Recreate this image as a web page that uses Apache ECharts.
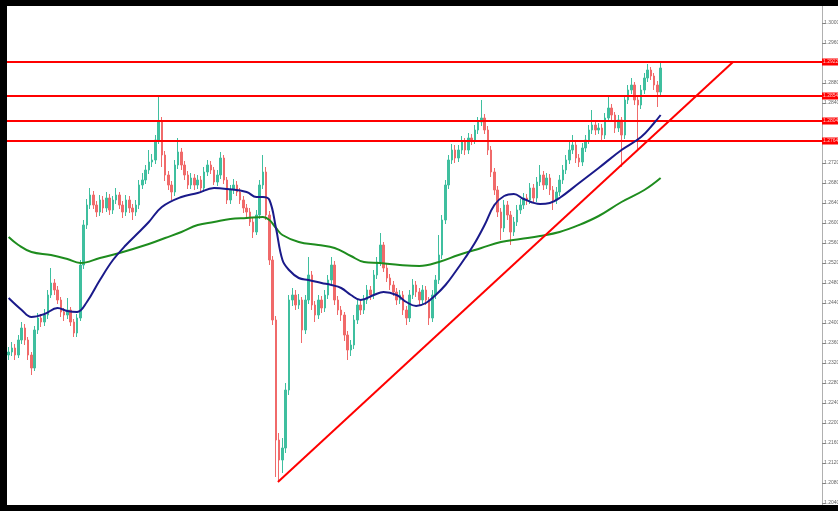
<!DOCTYPE html>
<html><head><meta charset="utf-8">
<script src="https://cdn.jsdelivr.net/npm/echarts/dist/echarts.min.js"></script>
<style>html,body{margin:0;padding:0;background:#fff}#c{width:838px;height:511px}</style>
</head><body><div id="c"></div>
<script>
const slotCount = 250;
const categories = Array.from({length: slotCount}, (_, i) => String(i));

const opens = [1.2336,
1.2342,1.2350,1.2336,1.2366,1.2390,1.2366,1.2336,1.2310,1.2386,1.2410,
1.2402,1.2416,1.2456,1.2480,1.2466,1.2446,1.2422,1.2416,1.2426,1.2402,
1.2380,1.2410,1.2516,1.2596,1.2636,1.2656,1.2636,1.2622,1.2646,1.2630,
1.2650,1.2626,1.2646,1.2656,1.2636,1.2622,1.2646,1.2630,1.2622,1.2636,
1.2676,1.2686,1.2706,1.2722,1.2726,1.2766,1.2802,1.2736,1.2696,1.2676,
1.2662,1.2716,1.2742,1.2716,1.2696,1.2676,1.2690,1.2676,1.2686,1.2670,
1.2702,1.2716,1.2706,1.2682,1.2696,1.2730,1.2686,1.2646,1.2666,1.2676,
1.2662,1.2646,1.2630,1.2622,1.2602,1.2582,1.2616,1.2676,1.2702,1.2616,
1.2526,1.2406,1.2166,1.2126,1.2150,1.2266,1.2446,1.2456,1.2436,1.2446,
1.2386,1.2446,1.2496,1.2436,1.2416,1.2446,1.2430,1.2456,1.2486,1.2516,
1.2446,1.2426,1.2416,1.2376,1.2346,1.2356,1.2406,1.2436,1.2426,1.2446,
1.2466,1.2456,1.2496,1.2522,1.2556,1.2510,1.2490,1.2476,1.2462,1.2446,
1.2456,1.2426,1.2410,1.2456,1.2476,1.2462,1.2446,1.2466,1.2446,1.2410,
1.2456,1.2486,1.2536,1.2606,1.2676,1.2726,1.2746,1.2730,1.2746,1.2762,
1.2746,1.2770,1.2766,1.2786,1.2802,1.2810,1.2786,1.2746,1.2702,1.2666,
1.2622,1.2590,1.2636,1.2616,1.2582,1.2602,1.2626,1.2636,1.2650,1.2646,
1.2670,1.2650,1.2682,1.2696,1.2676,1.2690,1.2666,1.2646,1.2662,1.2686,
1.2706,1.2726,1.2746,1.2756,1.2730,1.2722,1.2750,1.2766,1.2786,1.2796,
1.2786,1.2790,1.2776,1.2810,1.2830,1.2816,1.2790,1.2806,1.2776,1.2846,
1.2866,1.2876,1.2846,1.2836,1.2866,1.2890,1.2906,1.2894,1.2876,1.2862];

const closes = [
1.2342,1.2350,1.2336,1.2366,1.2390,1.2366,1.2336,1.2310,1.2386,1.2410,
1.2402,1.2416,1.2456,1.2480,1.2466,1.2446,1.2422,1.2416,1.2426,1.2402,
1.2380,1.2410,1.2516,1.2596,1.2636,1.2656,1.2636,1.2622,1.2646,1.2630,
1.2650,1.2626,1.2646,1.2656,1.2636,1.2622,1.2646,1.2630,1.2622,1.2636,
1.2676,1.2686,1.2706,1.2722,1.2726,1.2766,1.2802,1.2736,1.2696,1.2676,
1.2662,1.2716,1.2742,1.2716,1.2696,1.2676,1.2690,1.2676,1.2686,1.2670,
1.2702,1.2716,1.2706,1.2682,1.2696,1.2730,1.2686,1.2646,1.2666,1.2676,
1.2662,1.2646,1.2630,1.2622,1.2602,1.2582,1.2616,1.2676,1.2702,1.2616,
1.2526,1.2406,1.2166,1.2126,1.2150,1.2266,1.2446,1.2456,1.2436,1.2446,
1.2386,1.2446,1.2496,1.2436,1.2416,1.2446,1.2430,1.2456,1.2486,1.2516,
1.2446,1.2426,1.2416,1.2376,1.2346,1.2356,1.2406,1.2436,1.2426,1.2446,
1.2466,1.2456,1.2496,1.2522,1.2556,1.2510,1.2490,1.2476,1.2462,1.2446,
1.2456,1.2426,1.2410,1.2456,1.2476,1.2462,1.2446,1.2466,1.2446,1.2410,
1.2456,1.2486,1.2536,1.2606,1.2676,1.2726,1.2746,1.2730,1.2746,1.2762,
1.2746,1.2770,1.2766,1.2786,1.2802,1.2810,1.2786,1.2746,1.2702,1.2666,
1.2622,1.2590,1.2636,1.2616,1.2582,1.2602,1.2626,1.2636,1.2650,1.2646,
1.2670,1.2650,1.2682,1.2696,1.2676,1.2690,1.2666,1.2646,1.2662,1.2686,
1.2706,1.2726,1.2746,1.2756,1.2730,1.2722,1.2750,1.2766,1.2786,1.2796,
1.2786,1.2790,1.2776,1.2810,1.2830,1.2816,1.2790,1.2806,1.2776,1.2846,
1.2866,1.2876,1.2846,1.2836,1.2866,1.2890,1.2906,1.2894,1.2876,1.2862,
1.2910];

const highs = [
1.2352,1.2362,1.2358,1.2376,1.2402,1.2398,1.2372,1.2342,1.2394,1.2420,
1.2418,1.2428,1.2466,1.2510,1.2488,1.2474,1.2452,1.2430,1.2450,1.2432,
1.2408,1.2418,1.2526,1.2606,1.2648,1.2670,1.2664,1.2644,1.2656,1.2654,
1.2662,1.2658,1.2654,1.2670,1.2662,1.2644,1.2656,1.2654,1.2638,1.2646,
1.2686,1.2700,1.2716,1.2746,1.2738,1.2776,1.2852,1.2812,1.2744,1.2704,
1.2684,1.2726,1.2770,1.2750,1.2724,1.2704,1.2700,1.2698,1.2696,1.2694,
1.2712,1.2726,1.2724,1.2712,1.2706,1.2742,1.2736,1.2692,1.2676,1.2688,
1.2684,1.2670,1.2654,1.2638,1.2630,1.2610,1.2626,1.2686,1.2736,1.2712,
1.2624,1.2534,1.2414,1.2180,1.2170,1.2280,1.2456,1.2470,1.2466,1.2458,
1.2452,1.2456,1.2532,1.2504,1.2444,1.2456,1.2454,1.2466,1.2496,1.2532,
1.2524,1.2454,1.2434,1.2422,1.2384,1.2366,1.2416,1.2446,1.2444,1.2456,
1.2476,1.2474,1.2506,1.2532,1.2580,1.2562,1.2518,1.2498,1.2484,1.2470,
1.2466,1.2464,1.2434,1.2466,1.2488,1.2484,1.2470,1.2476,1.2474,1.2452,
1.2466,1.2496,1.2576,1.2616,1.2686,1.2736,1.2758,1.2756,1.2756,1.2774,
1.2770,1.2780,1.2778,1.2796,1.2812,1.2846,1.2818,1.2794,1.2754,1.2710,
1.2674,1.2630,1.2646,1.2644,1.2624,1.2612,1.2636,1.2648,1.2660,1.2658,
1.2680,1.2678,1.2692,1.2716,1.2704,1.2700,1.2698,1.2674,1.2672,1.2696,
1.2716,1.2736,1.2766,1.2776,1.2764,1.2738,1.2760,1.2776,1.2796,1.2826,
1.2804,1.2800,1.2798,1.2820,1.2856,1.2838,1.2822,1.2816,1.2812,1.2856,
1.2876,1.2890,1.2882,1.2856,1.2876,1.2900,1.2918,1.2912,1.2900,1.2884,
1.2922];

const lows = [
1.2326,1.2334,1.2326,1.2330,1.2358,1.2356,1.2326,1.2296,1.2304,1.2378,
1.2392,1.2394,1.2408,1.2450,1.2456,1.2438,1.2412,1.2404,1.2408,1.2394,
1.2372,1.2372,1.2404,1.2508,1.2588,1.2628,1.2628,1.2612,1.2614,1.2620,
1.2622,1.2616,1.2618,1.2638,1.2628,1.2610,1.2614,1.2620,1.2606,1.2614,
1.2628,1.2668,1.2678,1.2698,1.2712,1.2718,1.2758,1.2712,1.2684,1.2666,
1.2646,1.2654,1.2708,1.2706,1.2686,1.2668,1.2668,1.2666,1.2668,1.2660,
1.2662,1.2694,1.2698,1.2676,1.2674,1.2688,1.2678,1.2638,1.2638,1.2658,
1.2654,1.2638,1.2620,1.2612,1.2594,1.2570,1.2576,1.2608,1.2668,1.2606,
1.2516,1.2396,1.2092,1.2082,1.2100,1.2140,1.2256,1.2434,1.2426,1.2428,
1.2360,1.2378,1.2438,1.2426,1.2402,1.2408,1.2420,1.2422,1.2448,1.2478,
1.2436,1.2416,1.2404,1.2364,1.2326,1.2334,1.2348,1.2398,1.2416,1.2418,
1.2438,1.2446,1.2448,1.2488,1.2514,1.2502,1.2482,1.2466,1.2454,1.2436,
1.2438,1.2416,1.2396,1.2402,1.2448,1.2452,1.2436,1.2438,1.2436,1.2396,
1.2402,1.2448,1.2478,1.2528,1.2598,1.2668,1.2718,1.2720,1.2722,1.2738,
1.2736,1.2738,1.2756,1.2758,1.2778,1.2794,1.2778,1.2736,1.2692,1.2656,
1.2612,1.2566,1.2582,1.2606,1.2556,1.2574,1.2594,1.2618,1.2628,1.2636,
1.2638,1.2642,1.2642,1.2674,1.2666,1.2668,1.2656,1.2626,1.2638,1.2654,
1.2678,1.2698,1.2718,1.2738,1.2720,1.2712,1.2714,1.2742,1.2758,1.2778,
1.2776,1.2778,1.2764,1.2768,1.2802,1.2806,1.2780,1.2782,1.2712,1.2768,
1.2838,1.2858,1.2836,1.2746,1.2828,1.2858,1.2882,1.2886,1.2866,1.2832,
1.2854];

// moving averages: [candle index, price]
const maFast = [[0,1.2450],[4,1.2426],[7,1.2412],[11,1.2418],[15,1.2430],[18,1.2424],[21,1.2422],[24,1.2442],
[28,1.2486],[32,1.2526],[36,1.2556],[40,1.2582],[43,1.2602],[47,1.2632],[53,1.2652],[58,1.2660],[63,1.2670],
[67,1.2668],[73,1.2662],[76,1.2652],[78,1.2652],[80,1.2646],[82,1.2590],[84,1.2526],[86,1.2506],[89,1.2490],
[92,1.2486],[96,1.2480],[99,1.2476],[102,1.2470],[105,1.2456],[108,1.2446],[112,1.2456],[115,1.2462],[119,1.2456],
[122,1.2442],[125,1.2434],[128,1.2440],[131,1.2456],[134,1.2476],[137,1.2502],[140,1.2530],[143,1.2560],[146,1.2596],
[149,1.2636],[152,1.2654],[155,1.2658],[158,1.2648],[163,1.2638],[166,1.2640],[169,1.2650],[175,1.2680],[181,1.2710],
[188,1.2746],[194,1.2772],[198,1.2800],[200,1.2816]];
const maSlow = [[0,1.2572],[3,1.2556],[7,1.2542],[13,1.2536],[18,1.2528],[22,1.2520],[28,1.2530],[34,1.2540],
[43,1.2558],[48,1.2570],[53,1.2582],[58,1.2596],[63,1.2602],[68,1.2608],[73,1.2610],[78,1.2612],[80,1.2606],
[82,1.2590],[84,1.2576],[89,1.2562],[95,1.2556],[100,1.2550],[105,1.2534],[109,1.2522],[114,1.2520],[120,1.2516],
[126,1.2514],[132,1.2522],[138,1.2536],[145,1.2550],[151,1.2562],[157,1.2568],[163,1.2574],[169,1.2582],[175,1.2596],
[181,1.2614],[188,1.2642],[195,1.2666],[200,1.2690]];
const trendLine = [[82.6,1.2082],[222.2,1.2922]];
const levels = [1.2922,1.2854,1.2804,1.2764];
const yMin = 1.2000, yMax = 1.3040, yStep = 0.0040;

const candleData = opens.map((o, i) => [o, closes[i], lows[i], highs[i]]);
const up = '#3fbf9f', down = '#f06a6a';

const levelSeries = levels.map(v => ({
  type: 'line', xAxisIndex: 1, symbol: 'none', silent: true, z: 3,
  data: [[-0.5, v], [slotCount - 0.5, v]],
  lineStyle: {color: '#ff0000', width: 2},
  endLabel: {show: true, distance: 0, formatter: () => v.toFixed(4), fontSize: 5,
    color: '#ffc4c4', backgroundColor: '#ff0000', padding: [1, 1], fontFamily: 'Liberation Sans'}
}));

const chart = echarts.init(document.getElementById('c'));
chart.setOption({
  animation: false,
  grid: {left: 7, right: 16, top: 3, height: 520, containLabel: false, outerBoundsMode: 'none'},
  xAxis: [
    {type: 'category', data: categories, boundaryGap: true, show: false},
    {type: 'value', min: -0.5, max: slotCount - 0.5, show: false}
  ],
  yAxis: {
    type: 'value', position: 'right', min: yMin, max: yMax, interval: yStep,
    axisLine: {show: true, onZero: false, lineStyle: {color: '#b0b0b0', width: 1}},
    axisTick: {show: true, length: 3, lineStyle: {color: '#888'}},
    axisLabel: {fontSize: 5, color: '#666', margin: 2, showMinLabel: false, showMaxLabel: false,
      fontFamily: 'Liberation Sans', formatter: v => v.toFixed(4)},
    splitLine: {show: false}
  },
  series: [
    {
      type: 'candlestick', data: candleData, barWidth: 2,
      itemStyle: {color: up, color0: down, borderColor: up, borderColor0: down, borderWidth: 1}
    },
    ...levelSeries,
    {type: 'line', xAxisIndex: 1, data: maSlow, smooth: 0.4, symbol: 'none', lineStyle: {color: '#1e8c1e', width: 2}},
    {type: 'line', xAxisIndex: 1, data: maFast, smooth: 0.4, symbol: 'none', lineStyle: {color: '#1a1a8a', width: 2}},
    {type: 'line', xAxisIndex: 1, data: trendLine, symbol: 'none', lineStyle: {color: '#ff0000', width: 2}}
  ],
  graphic: [
    {type: 'rect', z: 100, shape: {x: 0, y: 0, width: 7, height: 511}, style: {fill: '#000'}},
    {type: 'rect', z: 100, shape: {x: 0, y: 0, width: 838, height: 6}, style: {fill: '#000'}},
    {type: 'rect', z: 100, shape: {x: 0, y: 505, width: 838, height: 6}, style: {fill: '#000'}}
  ]
});
</script>
</body></html>
